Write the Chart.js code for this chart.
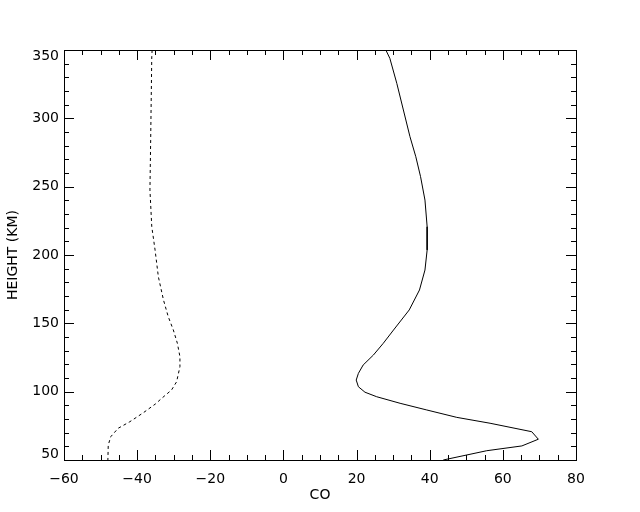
<!DOCTYPE html>
<html>
<head>
<meta charset="utf-8">
<script src="https://cdn.jsdelivr.net/npm/chart.js@4/dist/chart.umd.min.js"></script>
<style>html,body{margin:0;padding:0;background:#fff}</style>
</head>
<body>
<canvas id="c" width="640" height="512"></canvas>
<script>
// CO profiles vs height
const heightSolid = [350, 343.9, 325.6, 306.1, 286.6, 271.9, 257.3, 240.2, 220.7, 203.7, 189.0, 174.4, 159.8, 145.1, 135.4, 126.8, 119.5, 113.4, 108.5, 103.6, 99.6, 96.3, 91.5, 86.6, 81.2, 76.9, 70.7, 65.2, 60.3, 56.8, 50];
const coSolid = [28.0, 29.1, 31.0, 32.8, 34.6, 36.2, 37.5, 38.7, 39.3, 39.3, 38.7, 37.2, 34.4, 30.1, 27.3, 24.6, 21.8, 20.5, 19.9, 20.5, 22.3, 25.5, 31.9, 39.2, 47.4, 56.5, 67.9, 69.7, 65.2, 55.6, 43.7];

const heightDashed = [350, 345.1, 284.1, 247.6, 220.7, 203.7, 184.1, 167.1, 154.9, 145.1, 135.4, 125.6, 118.3, 107.3, 101.2, 95.1, 91.0, 84.6, 78.0, 73.2, 67.1, 61.0, 50];
const coDashed = [-35.9, -36.0, -36.3, -36.5, -36.0, -35.1, -34.2, -32.8, -31.5, -30.1, -29.0, -28.3, -28.3, -29.2, -30.6, -33.3, -35.0, -38.3, -42.0, -45.2, -47.2, -47.9, -48.0];

const xTicks = [-60, -40, -20, 0, 20, 40, 60, 80];
const yTicks = [50, 100, 150, 200, 250, 300, 350];
const xMinorStep = 5;
const yMinorStep = 10;

const toPoints = (xs, ys) => xs.map((x, i) => ({ x: x, y: ys[i] }));
const FONT = '14px "DejaVu Sans"';

// IDL-style frame: box, inward ticks on all four sides, labels
const idlAxes = {
  id: 'idlAxes',
  afterDraw(chart) {
    const { ctx, chartArea: a, scales: { x, y } } = chart;
    ctx.save();
    ctx.strokeStyle = '#000';
    ctx.lineWidth = 1;
    ctx.strokeRect(Math.round(a.left) + 0.5, Math.round(a.top) + 0.5,
      Math.round(a.right - a.left), Math.round(a.bottom - a.top));

    ctx.beginPath();
    for (let v = x.min; v <= x.max + 1e-6; v += xMinorStep) {
      const px = Math.round(x.getPixelForValue(v)) + 0.5;
      const len = v % 20 === 0 ? 10 : 5;
      ctx.moveTo(px, a.bottom); ctx.lineTo(px, a.bottom - len);
      ctx.moveTo(px, a.top); ctx.lineTo(px, a.top + len);
    }
    for (let v = y.min; v <= y.max + 1e-6; v += yMinorStep) {
      const py = Math.round(y.getPixelForValue(v)) + 0.5;
      const len = v % 50 === 0 ? 10 : 5;
      ctx.moveTo(a.left, py); ctx.lineTo(a.left + len, py);
      ctx.moveTo(a.right, py); ctx.lineTo(a.right - len, py);
    }
    ctx.stroke();

    ctx.fillStyle = '#000';
    ctx.font = FONT;
    ctx.textAlign = 'center';
    ctx.textBaseline = 'middle';
    xTicks.forEach(v => {
      ctx.fillText(String(v).replace('-', '\u2212'), x.getPixelForValue(v), a.bottom + 19);
    });
    ctx.textAlign = 'right';
    yTicks.forEach(v => {
      let py = y.getPixelForValue(v);
      py = Math.min(Math.max(py, a.top + 6), a.bottom - 6);
      ctx.fillText(String(v), a.left - 5, py);
    });

    ctx.textAlign = 'center';
    ctx.fillText('CO', (a.left + a.right) / 2, a.bottom + 35);
    ctx.translate(13, (a.top + a.bottom) / 2);
    ctx.rotate(-Math.PI / 2);
    ctx.fillText('HEIGHT (KM)', 0, 0);
    ctx.restore();
  }
};

new Chart(document.getElementById('c'), {
  type: 'scatter',
  data: {
    datasets: [
      {
        data: toPoints(coSolid, heightSolid),
        showLine: true,
        borderColor: '#000',
        borderWidth: 1,
        pointRadius: 0,
        tension: 0,
      },
      {
        data: toPoints(coDashed, heightDashed),
        showLine: true,
        borderColor: '#000',
        borderWidth: 1,
        borderDash: [3, 3],
        pointRadius: 0,
        tension: 0,
      },
    ],
  },
  options: {
    responsive: false,
    animation: false,
    layout: { padding: { left: 64, right: 64, top: 50, bottom: 52 } },
    plugins: { legend: { display: false }, tooltip: { enabled: false } },
    scales: {
      x: { type: 'linear', min: -60, max: 80, display: false },
      y: { type: 'linear', min: 50, max: 350, display: false },
    },
  },
  plugins: [idlAxes],
});
</script>
</body>
</html>
